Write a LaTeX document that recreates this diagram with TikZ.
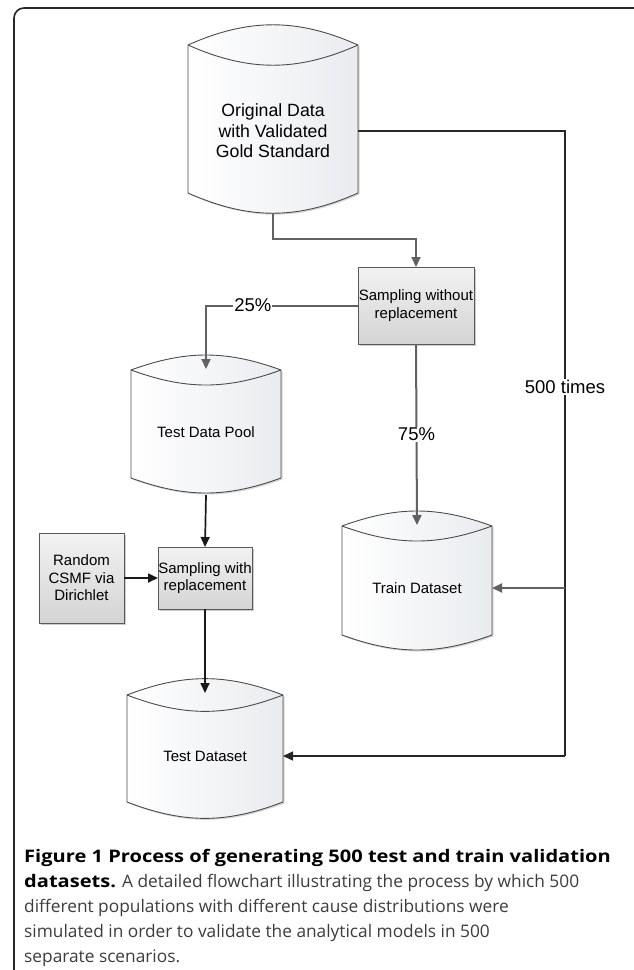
\documentclass[tikz,border=0pt]{standalone}
\usepackage{fontspec}
\setmainfont{Liberation Sans}
\newfontfamily\capfont{Open Sans}[BoldFeatures={FakeStretch=1.16}]
\usetikzlibrary{arrows.meta, positioning, shadows, backgrounds}
\definecolor{linegray}{HTML}{616161}
\definecolor{storegray}{HTML}{E9ECEF}
\definecolor{capgray}{HTML}{3C3C3C}

\begin{document}
\begin{tikzpicture}[
        x=1pt, y=-1pt,
        store/.style={rectangle, align=center, inner sep=0pt, outer sep=0pt, minimum height=126pt, font=\fontsize{15}{17.5}\selectfont},
        storeline/.style={draw=black!70, line width=0.9pt},
        process/.style={rectangle, draw=black!65, line width=0.9pt, align=center, inner sep=0pt, outer sep=0pt,
            top color=black!5, bottom color=black!17,
            drop shadow={shadow xshift=1.5pt, shadow yshift=-1.5pt, fill=black!40, opacity=0.5},
            font=\fontsize{15}{17.5}\selectfont},
        grayarrow/.style={draw=linegray, line width=2pt, -{Triangle[length=10pt, width=9pt]}},
        blackarrow/.style={draw=black!90, line width=1.7pt, -{Triangle[length=10pt, width=9pt]}},
        loopline/.style={draw=black!85, line width=1.4pt},
        pct/.style={fill=white, inner sep=1pt, font=\fontsize{18.5}{20}\selectfont}
    ]
        \useasboundingbox (0,0) rectangle (633,970);

        % outer frame
        \draw[line width=1.6pt, draw=black!85, rounded corners=10pt] (650,8) -| (14,985);

        \node[store, minimum width=170pt, minimum height=164pt, font=\fontsize{17.7}{20.5}\selectfont] (orig) at (273,131) {%
            Original Data\\
            with Validated\\
            Gold Standard
        };

        \node[process, minimum width=116pt, minimum height=77pt] (swo) at (416,305.5) {%
            Sampling without\\
            replacement
        };

        \node[store, minimum width=150pt] (pool) at (206,432) {Test Data Pool};
        \node[store, minimum width=150pt] (train) at (417,588) {Train Dataset};

        \node[process, minimum width=94pt, minimum height=62pt] (sw) at (205,578) {%
            Sampling with\\
            replacement
        };
        \node[process, minimum width=85pt, minimum height=90pt, left=34pt of sw] (rnd) {%
            Random\\
            CSMF via\\
            Dirichlet
        };

        \node[store, minimum width=156pt] (testset) at (205,756) {Test Dataset};

        % data store outlines
        \begin{scope}[on background layer]
            \foreach \n/\up/\dn/\b/\ang in {orig/106/82/20/24, pool/77/61/15/20, train/77/62/15/20, testset/77/62/16/21} {
                \draw[storeline, left color=white, right color=storegray,
                    drop shadow={shadow xshift=1.5pt, shadow yshift=-1.5pt, fill=black!35, opacity=0.45}]
                    ([yshift={(\up-\b)*1pt}]\n.west) to[bend left=\ang] ([yshift={(\up-\b)*1pt}]\n.east)
                    -- ([yshift={(\b-\dn)*1pt}]\n.east) to[bend left=\ang] ([yshift={(\b-\dn)*1pt}]\n.west) -- cycle;
                \draw[storeline] ([yshift={(\up-\b)*1pt}]\n.west) to[bend right=\ang] ([yshift={(\up-\b)*1pt}]\n.east);
            }
        \end{scope}

        \draw[grayarrow] (orig.south) -- ++(0,26) -| (swo.north);
        \draw[grayarrow] (swo.west) -| node[pct, pos=0.346] {25\%} (pool.north);
        \draw[grayarrow] (swo.south) -- node[pct] {75\%} (train.north);
        \draw[blackarrow] (pool.south) -- (sw.north);
        \draw[blackarrow] (rnd.east) -- (sw.west);
        \draw[blackarrow] (sw.south) -- (testset.north);

        \coordinate (back) at (565,756);
        \draw[loopline] (orig.east) -| node[pct, pos=0.705] {500 times} (back);
        \draw[loopline, -{Triangle[length=10pt, width=9pt]}] (back) -- (testset.east);
        \draw[grayarrow] (back |- train.east) -- (train.east);

        \node[anchor=north west, align=left, inner sep=0pt, text=capgray,
            font=\capfont\fontsize{17.3}{25}\selectfont] (caption) at (24,849) {%
            \textbf{\color{black}Figure 1 Process of generating 500 test and train validation}\\
            \textbf{\color{black}datasets.} A detailed flowchart illustrating the process by which 500\\
            different populations with different cause distributions were\\
            simulated in order to validate the analytical models in 500\\
            separate scenarios.
        };
\end{tikzpicture}
\end{document}
